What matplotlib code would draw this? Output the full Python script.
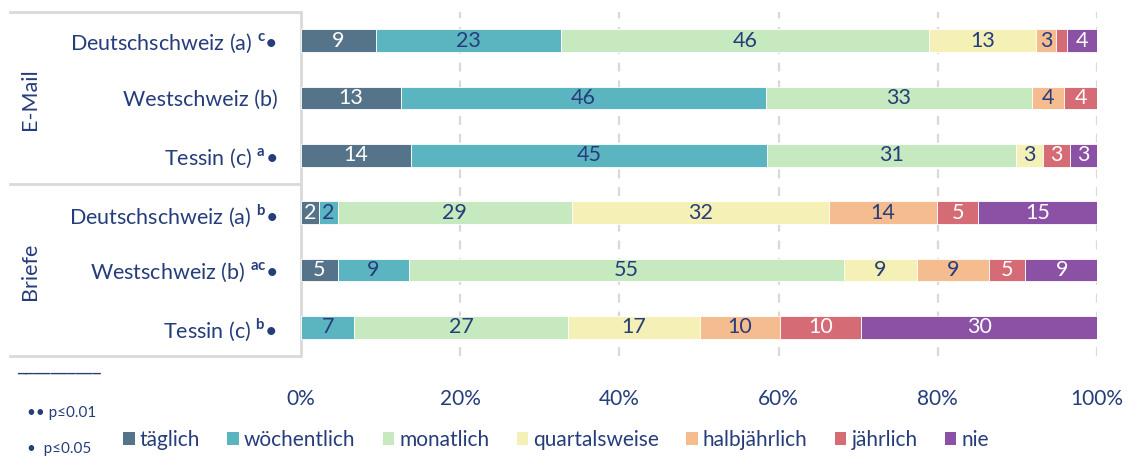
import matplotlib
matplotlib.use("Agg")
import matplotlib.pyplot as plt
from matplotlib.patches import Patch
from matplotlib.lines import Line2D

plt.rcParams['font.family'] = ['Lato', 'DejaVu Sans']
plt.rcParams['mathtext.fontset'] = 'custom'
plt.rcParams['mathtext.rm'] = 'Lato'
plt.rcParams['mathtext.bf'] = 'Lato:bold'

# data (percent per row)
rows = [r"Deutschschweiz (a) $^{\mathbf{c}}$•",
        "Westschweiz (b)",
        r"Tessin (c) $^{\mathbf{a}}$•",
        r"Deutschschweiz (a) $^{\mathbf{b}}$•",
        r"Westschweiz (b) $^{\mathbf{ac}}$•",
        r"Tessin (c) $^{\mathbf{b}}$•"]
groups = ["E-Mail", "Briefe"]
categories = ["täglich", "wöchentlich", "monatlich", "quartalsweise",
              "halbjährlich", "jährlich", "nie"]
taeglich = [9.4, 12.6, 13.8, 2.2, 4.6, 0.0]
woechentlich = [23.3, 45.8, 44.7, 2.4, 9.0, 6.7]
monatlich = [46.2, 33.4, 31.3, 29.4, 54.6, 26.8]
quartalsweise = [13.4, 0.0, 3.4, 32.3, 9.2, 16.6]
halbjaehrlich = [2.6, 4.1, 0.0, 13.6, 9.0, 10.1]
jaehrlich = [1.3, 4.1, 3.4, 5.2, 4.6, 10.1]
nie = [3.8, 0.0, 3.4, 15.0, 9.2, 29.9]
series = [taeglich, woechentlich, monatlich, quartalsweise,
          halbjaehrlich, jaehrlich, nie]
xticks = [0, 20, 40, 60, 80, 100]

colors = ["#567489", "#5bb5c0", "#c6e9bf", "#f5f1b6", "#f5bc90", "#d56b75", "#8a51a5"]
txt_colors = ["white", "#263d7c", "#263d7c", "#263d7c", "#263d7c", "white", "white"]
navy = "#263d7c"
grey = "#d9d9d9"

fig = plt.figure(figsize=(11.28, 4.57), dpi=100)
ax = fig.add_axes([301 / 1128, 1 - 356 / 457, 796 / 1128, 344 / 457])

ypos = list(range(len(rows)))
left = [0.0] * len(rows)
for vals, c, tc in zip(series, colors, txt_colors):
    ax.barh(ypos, vals, left=left, height=0.4, color=c, edgecolor="white",
            linewidth=0.6, zorder=3)
    for y, v, l in zip(ypos, vals, left):
        if v >= 1.5:
            ax.text(l + v / 2, y, f"{round(v):d}", ha="center", va="center",
                    color=tc, fontsize=15.5, zorder=4)
    left = [a + b for a, b in zip(left, vals)]

ax.set_xlim(0, 100)
ax.set_ylim(5.5, -0.5)
ax.set_xticks(xticks)
ax.set_xticklabels([f"{t}%" for t in xticks], color=navy, fontsize=15)
ax.set_yticks(ypos)
ax.set_yticklabels(rows, color=navy, fontsize=15.5)
ax.tick_params(length=0)
ax.tick_params(axis="y", pad=17)
ax.tick_params(axis="x", pad=24)
for t in xticks[1:]:
    ax.axvline(t, color=grey, linestyle=(0, (4, 4)), linewidth=1.6, zorder=1)
for s in ["top", "right", "bottom"]:
    ax.spines[s].set_visible(False)
ax.spines["left"].set_color(grey)
ax.spines["left"].set_linewidth(2)

# table lines on the left
for yy in [12, 184, 356]:
    fig.add_artist(Line2D([10 / 1128, 300 / 1128], [1 - yy / 457, 1 - yy / 457],
                          color=grey, linewidth=2))
fig.text(30 / 1128, 1 - 99 / 457, groups[0], rotation=90, ha="center", va="center",
         color=navy, fontsize=15.5)
fig.text(30 / 1128, 1 - 271 / 457, groups[1], rotation=90, ha="center", va="center",
         color=navy, fontsize=15.5)

# footnotes
fig.text(17 / 1128, 1 - 374 / 457, "__________", color=navy, fontsize=12,
         va="bottom", family="DejaVu Sans")
fig.text(27 / 1128, 1 - 413 / 457, "•• p≤0.01", color=navy, fontsize=11, va="center")
fig.text(27 / 1128, 1 - 449 / 457, "•  p≤0.05", color=navy, fontsize=11, va="center")

handles = [Patch(facecolor=c, label=l) for c, l in zip(colors, categories)]
fig.legend(handles=handles, loc="center", bbox_to_anchor=(556 / 1128, 1 - 440 / 457),
           ncol=7, frameon=False, fontsize=15, handlelength=0.55, handleheight=0.55,
           handletextpad=0.25, columnspacing=1.3, labelcolor=navy)

plt.savefig("out.png", dpi=100)
